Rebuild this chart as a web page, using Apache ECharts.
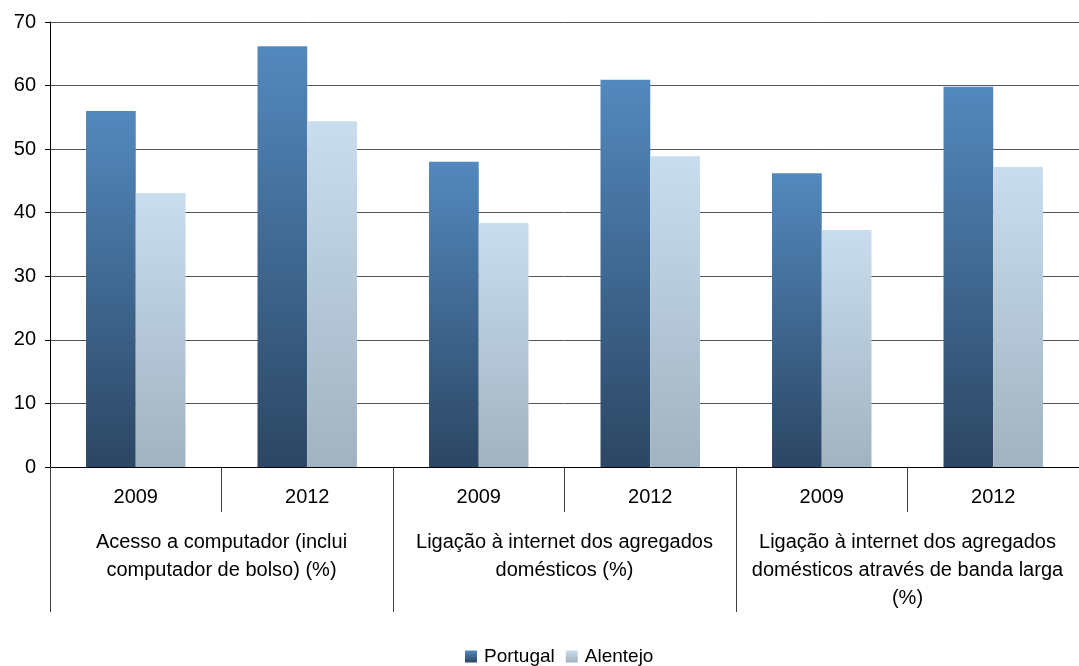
<!DOCTYPE html>
<html><head><meta charset="utf-8">
<script src="https://cdn.jsdelivr.net/npm/echarts@6/dist/echarts.min.js"></script>
<style>html,body{margin:0;padding:0;background:#fff}#c{width:1079px;height:666px}</style>
</head><body><div id="c"></div>
<script>
var years = ['2009', '2012', '2009', '2012', '2009', '2012'];
var groups = [
  'Acesso a computador (inclui\ncomputador de bolso) (%)',
  'Ligação à internet dos agregados\ndomésticos (%)',
  'Ligação à internet dos agregados\ndomésticos através de banda larga\n(%)'
];
var portugal = [56.0, 66.2, 48.0, 60.9, 46.2, 59.8];
var alentejo = [43.1, 54.4, 38.4, 48.9, 37.3, 47.2];
var yTicks = { min: 0, max: 70, interval: 10 };

var FONT = '"Liberation Sans", Arial, sans-serif';
function grad(top, bottom) {
  return new echarts.graphic.LinearGradient(0, 0, 0, 1, [
    { offset: 0, color: top }, { offset: 1, color: bottom }
  ]);
}
var chart = echarts.init(document.getElementById('c'), null, { renderer: 'canvas' });
chart.setOption({
  animation: false,
  textStyle: { fontFamily: FONT },
  grid: { left: 50, top: 22, right: -15, bottom: 199, containLabel: false },
  legend: {
    top: 647, left: 465, padding: 0,
    icon: 'rect', itemWidth: 12, itemHeight: 12, itemGap: 11,
    textStyle: { fontFamily: FONT, fontSize: 19, color: '#000', padding: [0, 0, 0, 2] },
    data: ['Portugal', 'Alentejo']
  },
  xAxis: [
    {
      type: 'category', data: years, position: 'bottom',
      axisLine: { onZero: false, lineStyle: { color: '#000', width: 1 } },
      axisTick: { show: true, length: 45, interval: 0, lineStyle: { color: '#404040' } },
      axisLabel: { interval: 0, margin: 20, fontSize: 20, color: '#000', fontFamily: FONT }
    },
    {
      type: 'category', data: groups, position: 'bottom',
      axisLine: { show: false, onZero: false },
      axisTick: { show: true, length: 145, interval: 0, lineStyle: { color: '#404040' } },
      axisLabel: { interval: 0, margin: 61, fontSize: 20, lineHeight: 28, color: '#000', fontFamily: FONT, align: 'center' }
    }
  ],
  yAxis: {
    type: 'value', min: yTicks.min, max: yTicks.max, interval: yTicks.interval,
    axisLine: { show: true, lineStyle: { color: '#000' } },
    axisTick: { show: true, length: 5, lineStyle: { color: '#000' } },
    axisLabel: { fontSize: 20, color: '#000', margin: 14, fontFamily: FONT },
    splitLine: { lineStyle: { color: '#555', width: 1 } }
  },
  series: [
    {
      name: 'Portugal', type: 'bar', xAxisIndex: 0, data: portugal,
      barGap: '0%', barCategoryGap: '42%',
      itemStyle: { color: grad('#5389BE', '#2C4663') }
    },
    {
      name: 'Alentejo', type: 'bar', xAxisIndex: 0, data: alentejo,
      barGap: '0%', barCategoryGap: '42%',
      itemStyle: { color: grad('#C9DDEE', '#A1B3C1') }
    }
  ]
});
</script></body></html>
